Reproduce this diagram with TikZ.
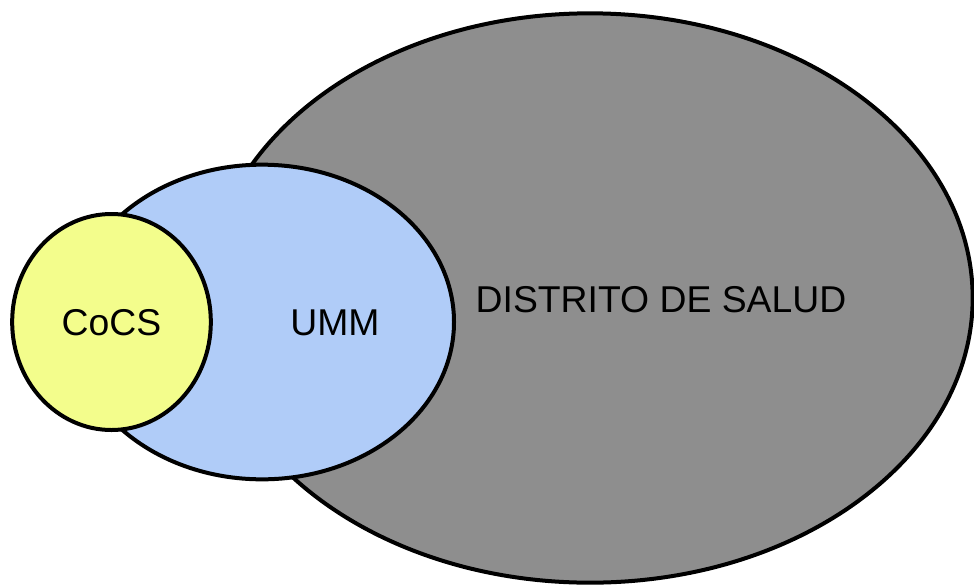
\documentclass[tikz,border=0pt]{standalone}
\usepackage{fontspec}
\setmainfont{Liberation Sans}
\usetikzlibrary{shapes.geometric}
\definecolor{distgray}{RGB}{142,142,142}
\definecolor{ummblue}{RGB}{176,204,248}
\definecolor{cocsyellow}{RGB}{243,253,140}
\tikzset{
  font={\fontsize{28pt}{34}\selectfont}}
\begin{document}
\begin{tikzpicture}[x=0.75pt,y=-0.75pt]
\tikzstyle{every node}+=[inner sep=0pt]
\tikzstyle{zona}=[ellipse,draw=black,line width=3pt]
\useasboundingbox (0,0) rectangle (974,586);
\node [zona,fill=distgray,minimum width=574pt,minimum height=427pt] (distrito) at (590,298) {};
\node [zona,fill=ummblue,minimum width=288pt,minimum height=236pt] (umm) at (262,322) {};
\node [zona,fill=cocsyellow,minimum width=149pt,minimum height=162pt] (cocs) at (111.5,322) {};
\draw (661,300) node (tdistrito) {DISTRITO DE SALUD};
\draw (335,323) node (tumm) {UMM};
\draw (111.5,323) node (tcocs) {CoCS};
\end{tikzpicture}
\end{document}
